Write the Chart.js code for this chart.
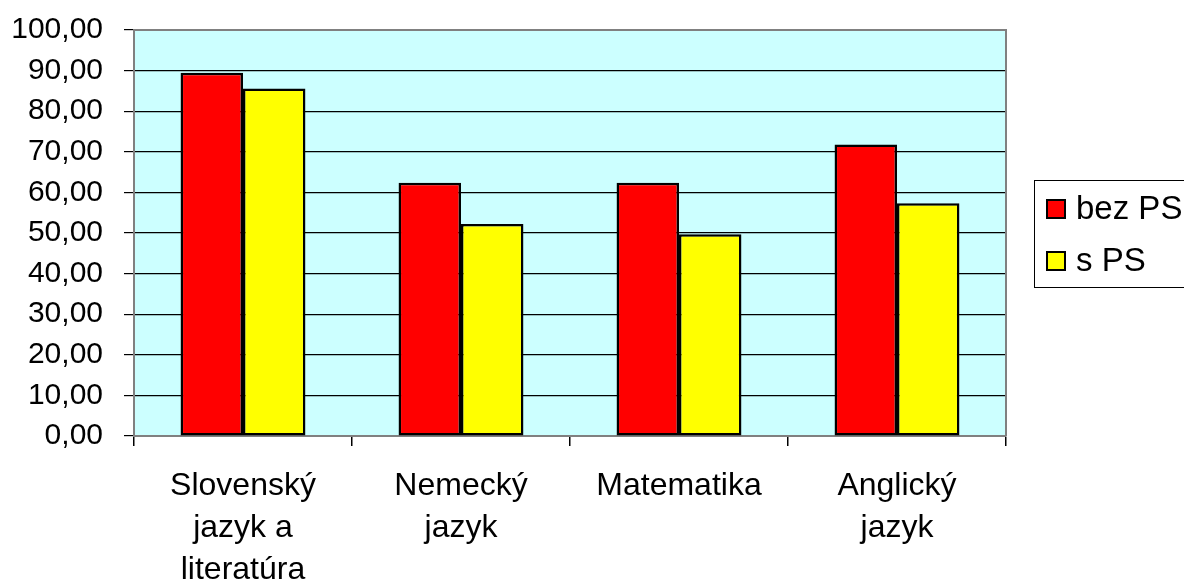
<!DOCTYPE html>
<html>
<head>
<meta charset="utf-8">
<script src="https://cdn.jsdelivr.net/npm/chart.js@4/dist/chart.umd.min.js"></script>
<style>
html,body{margin:0;padding:0;background:#fff;}
#wrap{width:1184px;height:583px;position:relative;}
</style>
</head>
<body>
<div id="wrap"><canvas id="c" width="1184" height="583"></canvas></div>
<script>
const categories = [["Slovenský","jazyk a","literatúra"],["Nemecký","jazyk"],["Matematika"],["Anglický","jazyk"]];
const seriesNames = ["bez PS","s PS"];
const bezPS = [89.5, 62.4, 62.4, 71.8];
const sPS = [85.6, 52.2, 49.7, 57.3];
const yTicks = [0,10,20,30,40,50,60,70,80,90,100];

const FONT = "'Liberation Sans', Arial, sans-serif";

const bgPlugin = {
  id: 'plotBg',
  beforeDraw(chart) {
    const {ctx, chartArea: a} = chart;
    ctx.save();
    ctx.fillStyle = '#CCFFFF';
    ctx.fillRect(a.left, a.top, a.right - a.left, a.bottom - a.top);
    ctx.restore();
  },
  afterDraw(chart) {
    const {ctx, chartArea: a} = chart;
    ctx.save();
    ctx.strokeStyle = '#808080';
    ctx.lineWidth = 2;
    ctx.beginPath();
    ctx.moveTo(a.left, a.top);
    ctx.lineTo(a.right, a.top);
    ctx.lineTo(a.right, a.bottom);
    ctx.stroke();
    // legend
    const lx = 1034, ly = 180, lw = 160, lh = 107;
    ctx.fillStyle = '#fff';
    ctx.fillRect(lx, ly, lw, lh);
    ctx.strokeStyle = '#000';
    ctx.lineWidth = 1;
    ctx.strokeRect(lx + 0.5, ly + 0.5, lw, lh);
    ctx.font = '33px ' + FONT;
    ctx.textBaseline = 'middle';
    ctx.textAlign = 'left';
    chart.data.datasets.forEach((ds, i) => {
      const cy = 209 + i * 52;
      ctx.fillStyle = ds.backgroundColor;
      ctx.fillRect(1047, cy - 9, 18, 18);
      ctx.strokeStyle = '#000';
      ctx.lineWidth = 2;
      ctx.strokeRect(1047, cy - 9, 18, 18);
      ctx.fillStyle = '#000';
      ctx.fillText(ds.label, 1076, cy + 1);
    });
    ctx.restore();
  }
};

new Chart(document.getElementById('c'), {
  type: 'bar',
  data: {
    labels: categories,
    datasets: [
      {label: seriesNames[0], data: bezPS, backgroundColor: '#FF0000', borderColor: '#000', borderWidth: 2.5, borderSkipped: false},
      {label: seriesNames[1], data: sPS, backgroundColor: '#FFFF00', borderColor: '#000', borderWidth: 2.5, borderSkipped: false}
    ]
  },
  options: {
    responsive: false,
    animation: false,
    events: [],
    layout: {padding: {top: 30, right: 178, left: 0, bottom: 0}},
    datasets: {bar: {categoryPercentage: 0.573, barPercentage: 1.0}},
    plugins: {legend: {display: false}, tooltip: {enabled: false}},
    scales: {
      x: {
        grid: {offset: true, drawOnChartArea: false, tickLength: 10, color: '#000', lineWidth: 1.5},
        border: {color: '#808080', width: 2},
        ticks: {color: '#000', font: {family: FONT, size: 32, lineHeight: 1.31}, padding: 19, maxRotation: 0, autoSkip: false},
        afterFit(scale) { scale.height = 147; scale.paddingLeft = 0; scale.paddingRight = 0; }
      },
      y: {
        min: 0, max: 100,
        afterBuildTicks(scale) { scale.ticks = yTicks.map(v => ({value: v})); },
        grid: {color: '#000', lineWidth: 1.2, tickLength: 10},
        border: {color: '#808080', width: 2},
        ticks: {color: '#000', font: {family: FONT, size: 30}, padding: 21,
          callback: v => v.toFixed(2).replace('.', ',')},
        afterFit(scale) { scale.width = 134; scale.paddingTop = 0; scale.paddingBottom = 0; }
      }
    }
  },
  plugins: [bgPlugin]
});
</script>
</body>
</html>
